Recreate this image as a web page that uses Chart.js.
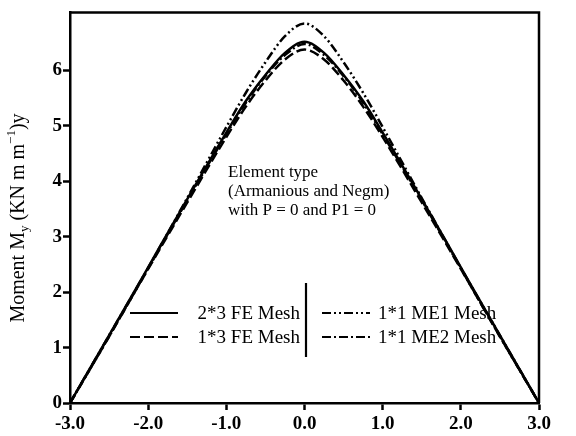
<!DOCTYPE html>
<html>
<head>
    <title>Moment My</title>
    <script src="https://cdn.jsdelivr.net/npm/chart.js"></script>
    <style>
        body { margin: 0; background: #fff; }
        canvas { display: block; }
    </style>
</head>
<body>
    <canvas id="momentChart" width="576" height="436"></canvas>
    <script>
        // distance along the section (x) and moment values
        const xVals = [-3.0, -2.5, -2.0, -1.5, -1.0, -0.75, -0.5, -0.25, 0.0, 0.25, 0.5, 0.75, 1.0, 1.5, 2.0, 2.5, 3.0];
        const fe23 = [0, 1.22, 2.45, 3.68, 4.88, 5.45, 5.92, 6.32, 6.52, 6.32, 5.92, 5.45, 4.88, 3.68, 2.45, 1.22, 0];
        const fe13 = [0, 1.2, 2.42, 3.62, 4.8, 5.35, 5.82, 6.2, 6.38, 6.2, 5.82, 5.35, 4.8, 3.62, 2.42, 1.2, 0];
        const me1  = [0, 1.22, 2.44, 3.7, 4.98, 5.6, 6.15, 6.62, 6.85, 6.62, 6.15, 5.6, 4.98, 3.7, 2.44, 1.22, 0];
        const me2  = [0, 1.2, 2.43, 3.66, 4.85, 5.42, 5.9, 6.28, 6.48, 6.28, 5.9, 5.42, 4.85, 3.66, 2.43, 1.2, 0];
        const yTicks = [0, 1, 2, 3, 4, 5, 6];
        const noteLines = ['Element type', '(Armanious and Negm)', 'with P = 0 and P1 = 0'];

        const serif = '"Liberation Serif", "Times New Roman", serif';

        function pts(ys) {
            return xVals.map((x, i) => ({ x: x, y: ys[i] }));
        }

        const series = [
            { label: '2*3 FE Mesh', data: pts(fe23), dash: [] },
            { label: '1*3 FE Mesh', data: pts(fe13), dash: [10, 4] },
            { label: '1*1 ME1 Mesh', data: pts(me1), dash: [9, 3, 2, 3, 2, 3] },
            { label: '1*1 ME2 Mesh', data: pts(me2), dash: [9, 3, 2, 3] }
        ];

        // frame, note, legend and y title with sub/superscript
        const extras = {
            id: 'extras',
            afterDraw(chart) {
                const ctx = chart.ctx;
                const a = chart.chartArea;
                ctx.save();
                ctx.strokeStyle = '#000';
                ctx.lineWidth = 2.5;
                ctx.beginPath();
                ctx.moveTo(a.left, a.top);
                ctx.lineTo(a.right, a.top);
                ctx.lineTo(a.right, a.bottom);
                ctx.stroke();

                ctx.fillStyle = '#000';
                ctx.font = '17px ' + serif;
                ctx.textBaseline = 'middle';
                ctx.textAlign = 'left';
                noteLines.forEach((t, i) => ctx.fillText(t, 228, 173 + i * 19));

                // legend
                ctx.font = '19px ' + serif;
                const rows = [313, 337];
                ctx.lineWidth = 2.2;
                series.forEach((s, i) => {
                    const col = i < 2 ? 0 : 1;
                    const y = rows[i % 2];
                    const x0 = col === 0 ? 130 : 322;
                    ctx.setLineDash(s.dash);
                    ctx.beginPath();
                    ctx.moveTo(x0, y);
                    ctx.lineTo(x0 + 48, y);
                    ctx.stroke();
                    ctx.setLineDash([]);
                    if (col === 0) {
                        ctx.textAlign = 'right';
                        ctx.fillText(s.label, 300, y + 1);
                    } else {
                        ctx.textAlign = 'left';
                        ctx.fillText(s.label, 378, y + 1);
                    }
                });
                ctx.lineWidth = 2.2;
                ctx.beginPath();
                ctx.moveTo(306, 283);
                ctx.lineTo(306, 357);
                ctx.stroke();

                // y axis title
                ctx.translate(19, 218);
                ctx.rotate(-Math.PI / 2);
                ctx.textAlign = 'left';
                ctx.textBaseline = 'middle';
                const parts = [
                    ['Moment M', 20, 0],
                    ['y', 13, 6],
                    [' (KN m m', 20, 0],
                    ['\u22121', 13, -7],
                    [')y', 20, 0]
                ];
                let total = 0;
                parts.forEach(p => { ctx.font = p[1] + 'px ' + serif; total += ctx.measureText(p[0]).width; });
                let cx = -total / 2;
                parts.forEach(p => {
                    ctx.font = p[1] + 'px ' + serif;
                    ctx.fillText(p[0], cx, p[2]);
                    cx += ctx.measureText(p[0]).width;
                });
                ctx.restore();
            }
        };

        new Chart(document.getElementById('momentChart'), {
            type: 'line',
            data: {
                datasets: series.map(s => ({
                    label: s.label,
                    data: s.data,
                    borderColor: '#000',
                    borderWidth: 2.5,
                    borderDash: s.dash,
                    pointRadius: 0,
                    fill: false,
                    cubicInterpolationMode: 'monotone'
                }))
            },
            options: {
                responsive: false,
                animation: false,
                layout: { padding: { top: 8, right: 37, left: 0, bottom: 0 } },
                plugins: { legend: { display: false }, tooltip: { enabled: false } },
                scales: {
                    x: {
                        type: 'linear',
                        min: -3,
                        max: 3,
                        afterFit: s => { s.height = 33; },
                        border: { color: '#000', width: 2.5 },
                        grid: { drawOnChartArea: false, tickLength: 7, tickWidth: 2.5, tickColor: '#000' },
                        ticks: {
                            stepSize: 1,
                            color: '#000',
                            padding: 3,
                            font: { family: serif, size: 19, weight: 'bold' },
                            callback: v => v.toFixed(1)
                        }
                    },
                    y: {
                        type: 'linear',
                        min: 0,
                        max: 7.05,
                        afterFit: s => { s.width = 70; },
                        afterBuildTicks: s => { s.ticks = yTicks.map(v => ({ value: v })); },
                        border: { color: '#000', width: 2.5 },
                        grid: { drawOnChartArea: false, tickLength: 7, tickWidth: 2.5, tickColor: '#000' },
                        ticks: {
                            color: '#000',
                            padding: 1,
                            font: { family: serif, size: 19, weight: 'bold' }
                        }
                    }
                }
            },
            plugins: [extras]
        });
    </script>
</body>
</html>
